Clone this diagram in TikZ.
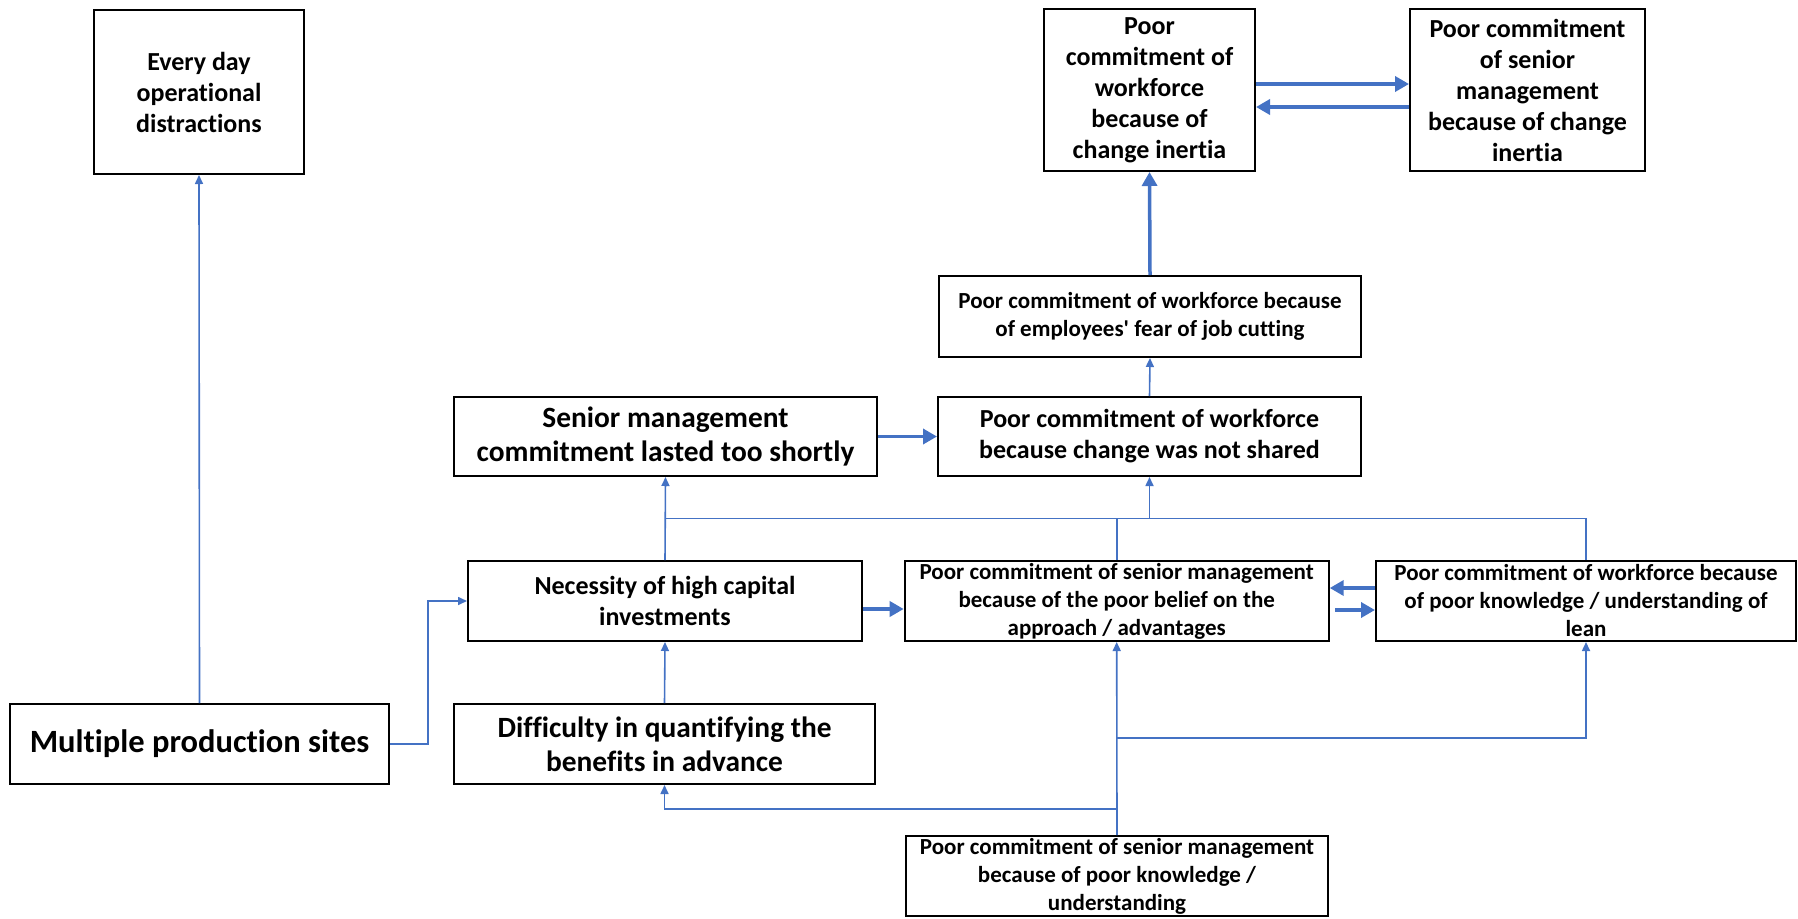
\documentclass[tikz,border=0pt]{standalone}
\usepackage{fontspec}
\newfontfamily\carlito{Carlito}[Ligatures=NoCommon]
\usetikzlibrary{arrows.meta}
\definecolor{linkblue}{HTML}{4472C4}
\tikzset{
  box/.style={draw=black, line width=2pt, inner sep=0pt, align=center},
  fsmall/.style={font=\carlito\bfseries\fontsize{23}{28}\selectfont},
  fmid/.style={font=\carlito\bfseries\fontsize{26}{31}\selectfont},
  fbig/.style={font=\carlito\bfseries\fontsize{29.4}{34}\selectfont},
  fhuge/.style={font=\carlito\bfseries\fontsize{32.5}{38}\selectfont},
  link/.style={draw=linkblue, line width=1.6pt, -{Triangle[length=9pt,width=8pt]}},
  plain/.style={draw=linkblue, line width=1.6pt},
  heavy/.style={draw=linkblue, line width=3.5pt, -{Triangle[length=14pt,width=15pt]}},
}
\begin{document}
\begin{tikzpicture}[x=1pt,y=-1pt]
\useasboundingbox (0,0) rectangle (1798,918);

% boxes
\node[box,fmid,minimum width=210pt,minimum height=164pt] (every) at (199,92)
  {Every day\\operational\\distractions};
\node[box,fhuge,minimum width=379pt,minimum height=80pt] (multi) at (199.5,744)
  {Multiple production sites};
\node[box,fbig,minimum width=423pt,minimum height=79pt] (senior) at (665.5,436.5)
  {Senior management\\commitment lasted too shortly};
\node[box,fmid,minimum width=394pt,minimum height=80pt] (necess) at (665,601)
  {Necessity of high capital\\investments};
\node[box,fbig,minimum width=421pt,minimum height=80pt] (diff) at (664.5,744)
  {Difficulty in quantifying the\\benefits in advance};
\node[box,fmid,minimum width=211pt,minimum height=162pt] (inertW) at (1149.5,90)
  {Poor\\commitment of\\workforce\\because of\\change inertia};
\node[box,fmid,minimum width=235pt,minimum height=162pt] (inertS) at (1527.5,90)
  {Poor commitment\\of senior\\management\\because of change\\inertia};
\node[box,fsmall,minimum width=422pt,minimum height=81pt] (fear) at (1150,316.5)
  {Poor commitment of workforce because\\of employees' fear of job cutting};
\node[box,fmid,minimum width=423pt,minimum height=79pt] (shared) at (1149.5,436.5)
  {Poor commitment of workforce\\because change was not shared};
\node[box,fsmall,minimum width=424pt,minimum height=80pt] (belief) at (1116.7,601)
  {Poor commitment of senior management\\because of the poor belief on the\\approach / advantages};
\node[box,fsmall,minimum width=420pt,minimum height=80pt] (lean) at (1586,601)
  {Poor commitment of workforce because\\of poor knowledge / understanding of\\lean};
\node[box,fsmall,minimum width=422pt,minimum height=80pt] (bottom) at (1117,876)
  {Poor commitment of senior management\\because of poor knowledge /\\understanding};

% junction points of the connector network
\coordinate (bus) at (0,518.5);
\coordinate (jA) at (0,738);
\coordinate (jB) at (0,809);
\coordinate (mj) at (428,744);

% thin connectors
\draw[link] (multi.north) -- (every.south);
\draw[link] (multi.east) -- (mj) |- (necess.west);
\draw[link] (diff.north) -- (necess.south);
\draw[link] (necess.north) -- (senior.south);
\draw[plain] (necess.north |- bus) -- (lean.north |- bus) -- (lean.north);
\draw[plain] (belief.north) -- (belief.north |- bus);
\draw[link] (shared.south |- bus) -- (shared.south);
\draw[link] (shared.north) -- (fear.south);
\draw[link] (bottom.north) -- (belief.south);
\draw[link] (bottom.north |- jA) -| (lean.south);
\draw[link] (bottom.north |- jB) -| (diff.south);

% heavy connectors
\draw[heavy] (fear.north) -- (inertW.south);
\draw[heavy] ([yshift=6pt]inertW.east) -- ([yshift=6pt]inertS.west);
\draw[heavy] ([yshift=-17pt]inertS.west) -- ([yshift=-17pt]inertW.east);
\draw[heavy] (senior.east) -- (shared.west);
\draw[heavy] ([yshift=-8pt]necess.east) -- ([yshift=-8pt]belief.west);
\draw[heavy] ([yshift=13pt]lean.west) -- ([yshift=13pt]belief.east);
\draw[heavy] ([xshift=5.5pt,yshift=-9pt]belief.east) -- ([yshift=-9pt]lean.west);
\end{tikzpicture}
\end{document}
